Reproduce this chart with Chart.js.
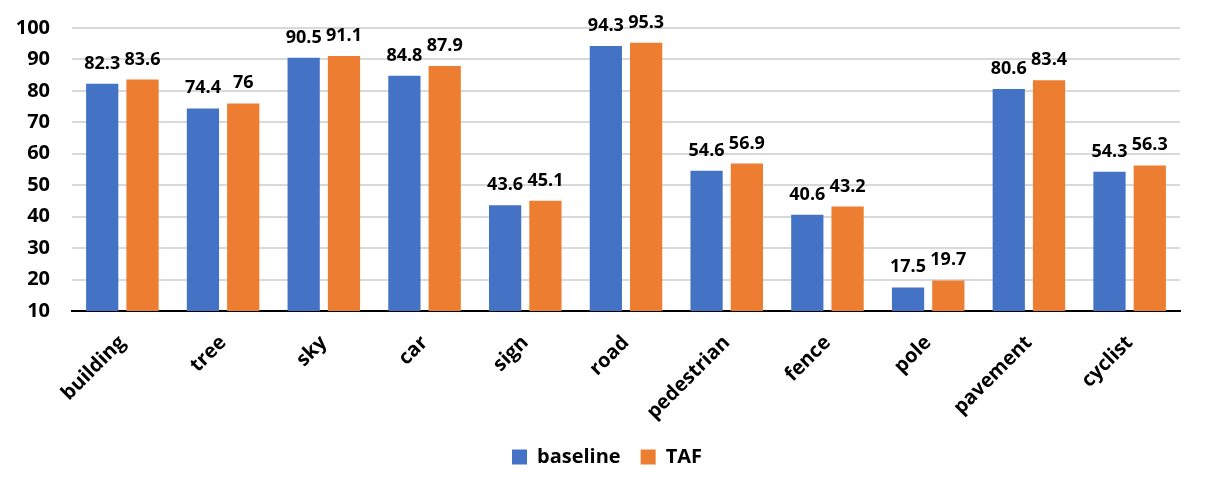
<!DOCTYPE html>
<html><head><meta charset="utf-8">
<script src="https://cdn.jsdelivr.net/npm/chart.js@4/dist/chart.umd.min.js"></script>
<style>html,body{margin:0;padding:0;background:#fff}#wrap{width:1207px;height:496px}</style>
</head><body><div id="wrap"><canvas id="c"></canvas></div>
<script>
const categories = ["building","tree","sky","car","sign","road","pedestrian","fence","pole","pavement","cyclist"];
const baseline = [82.3,74.4,90.5,84.8,43.6,94.3,54.6,40.6,17.5,80.6,54.3];
const taf = [83.6,76,91.1,87.9,45.1,95.3,56.9,43.2,19.7,83.4,56.3];
const yTicks = [10,20,30,40,50,60,70,80,90,100];
const FONT = "'Open Sans', 'Liberation Sans', sans-serif";

const labelPlugin = {
  id: 'vals',
  afterLayout(chart) {
    if (chart.legend) { chart.legend.left += 17; chart.legend.right += 17; }
  },
  afterDatasetsDraw(chart) {
    const ctx = chart.ctx;
    ctx.save();
    ctx.font = "bold 18px " + FONT;
    ctx.fillStyle = '#000';
    ctx.textAlign = 'center';
    ctx.textBaseline = 'alphabetic';
    chart.data.datasets.forEach((ds, i) => {
      chart.getDatasetMeta(i).data.forEach((bar, j) => {
        ctx.fillText(String(ds.data[j]), bar.x, bar.y - 15);
      });
    });
    ctx.restore();
  }
};

new Chart(document.getElementById('c'), {
  type: 'bar',
  data: {
    labels: categories,
    datasets: [
      {label: 'baseline', data: baseline, backgroundColor: '#4472C4', categoryPercentage: 0.8, barPercentage: 0.8},
      {label: 'TAF', data: taf, backgroundColor: '#ED7D31', categoryPercentage: 0.8, barPercentage: 0.8}
    ]
  },
  options: {
    responsive: true, maintainAspectRatio: false, animation: false,
    layout: {padding: {top: 11, right: 27, left: 0, bottom: 19}},
    plugins: {
      legend: {position: 'bottom', labels: {font: {family: FONT, size: 20, weight: 'bold'}, color: '#000', boxWidth: 15, boxHeight: 15, padding: 20}},
      tooltip: {enabled: false}
    },
    scales: {
      x: {
        afterFit(axis) { axis.height = 116; },
        grid: {display: false, drawTicks: false},
        border: {color: '#000', width: 2},
        ticks: {font: {family: FONT, size: 20, weight: 'bold'}, color: '#000', maxRotation: 45, minRotation: 45, padding: 20}
      },
      y: {
        min: 10, max: 100,
        afterBuildTicks(axis) { axis.ticks = yTicks.map(v => ({value: v})); },
        afterFit(axis) { axis.width = 72; },
        grid: {color: '#d9d9d9', lineWidth: 2, drawTicks: true, tickLength: 6, tickColor: 'rgba(0,0,0,0)'},
        border: {display: false},
        ticks: {font: {family: FONT, size: 20, weight: 'bold'}, color: '#000', padding: 16}
      }
    }
  },
  plugins: [labelPlugin]
});
</script></body></html>
